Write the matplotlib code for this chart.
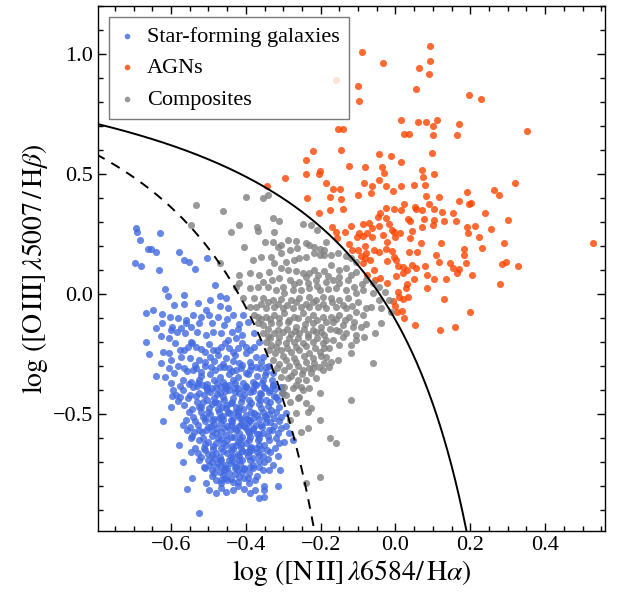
import numpy as np
import matplotlib
matplotlib.use("Agg")
import matplotlib.pyplot as plt

# BPT diagram values: (log NII/Ha, log OIII/Hb)
sf_points = [
    (-0.693, 0.274), (-0.691, 0.260), (-0.629, 0.253), (-0.684, 0.225), (-0.662, 0.186), (-0.653, 0.188),
    (-0.640, 0.177), (-0.695, 0.131), (-0.679, 0.118), (-0.631, 0.100), (-0.579, 0.177), (-0.566, 0.142),
    (-0.552, 0.135), (-0.537, 0.103), (-0.503, 0.149), (-0.483, 0.038), (-0.616, 0.021), (-0.609, -0.009),
    (-0.564, -0.004), (-0.566, -0.041), (-0.528, -0.039), (-0.668, -0.080), (-0.647, -0.066), (-0.624, -0.083),
    (-0.602, -0.094), (-0.593, -0.046), (-0.582, -0.101), (-0.540, -0.087), (-0.506, -0.066), (-0.497, -0.025),
    (-0.470, -0.007), (-0.454, -0.018), (-0.448, -0.059), (-0.470, -0.052), (-0.435, -0.087), (-0.408, -0.087),
    (-0.419, -0.125), (-0.436, -0.157), (-0.457, -0.129), (-0.475, -0.094), (-0.499, -0.087), (-0.524, -0.122),
    (-0.546, -0.136), (-0.559, -0.122), (-0.573, -0.143), (-0.597, -0.136), (-0.625, -0.119), (-0.627, -0.177),
    (-0.606, -0.184), (-0.584, -0.157), (-0.562, -0.164), (-0.546, -0.198), (-0.530, -0.157), (-0.506, -0.171),
    (-0.488, -0.157), (-0.466, -0.164), (-0.448, -0.191), (-0.426, -0.184), (-0.410, -0.171), (-0.399, -0.219),
    (-0.379, -0.164), (-0.668, -0.198), (-0.622, -0.240), (-0.604, -0.247), (-0.577, -0.233), (-0.555, -0.219),
    (-0.533, -0.219), (-0.510, -0.240), (-0.488, -0.233), (-0.466, -0.219), (-0.444, -0.226), (-0.421, -0.226),
    (-0.399, -0.247), (-0.377, -0.219), (-0.372, -0.261), (-0.626, -0.286), (-0.599, -0.275), (-0.573, -0.261),
    (-0.550, -0.268), (-0.524, -0.275), (-0.497, -0.261), (-0.475, -0.254), (-0.452, -0.268), (-0.430, -0.254),
    (-0.417, -0.289), (-0.390, -0.282), (-0.354, -0.261), (-0.345, -0.303), (-0.617, -0.344), (-0.591, -0.330),
    (-0.564, -0.309), (-0.542, -0.316), (-0.519, -0.323), (-0.493, -0.303), (-0.470, -0.303), (-0.444, -0.309),
    (-0.426, -0.316), (-0.399, -0.330), (-0.372, -0.303), (-0.350, -0.337), (-0.328, -0.330), (-0.595, -0.400),
    (-0.568, -0.358), (-0.546, -0.365), (-0.524, -0.358), (-0.506, -0.386), (-0.484, -0.358), (-0.461, -0.365),
    (-0.435, -0.358), (-0.408, -0.372), (-0.381, -0.365), (-0.354, -0.358), (-0.328, -0.379), (-0.577, -0.428),
    (-0.550, -0.421), (-0.524, -0.414), (-0.497, -0.407), (-0.470, -0.414), (-0.444, -0.400), (-0.417, -0.414),
    (-0.390, -0.407), (-0.363, -0.414), (-0.337, -0.407), (-0.319, -0.428),
    (-0.596, -0.427), (-0.587, -0.420), (-0.569, -0.400), (-0.564, -0.462), (-0.551, -0.490), (-0.569, -0.546),
    (-0.547, -0.601), (-0.538, -0.573), (-0.578, -0.629), (-0.547, -0.657), (-0.569, -0.698), (-0.511, -0.722),
    (-0.544, -0.765), (-0.558, -0.812), (-0.507, -0.789), (-0.498, -0.816), (-0.466, -0.809), (-0.453, -0.826),
    (-0.435, -0.782), (-0.404, -0.814), (-0.391, -0.786), (-0.375, -0.775), (-0.351, -0.800), (-0.351, -0.816),
    (-0.352, -0.844), (-0.364, -0.851), (-0.315, -0.802), (-0.337, -0.733), (-0.308, -0.733), (-0.315, -0.675),
    (-0.322, -0.643), (-0.311, -0.622), (-0.297, -0.615), (-0.284, -0.580), (-0.273, -0.608), (-0.524, -0.914),
    (-0.417, -0.761), (-0.449, -0.775), (-0.404, -0.768), (-0.382, -0.712), (-0.364, -0.722), (-0.351, -0.698),
    (-0.328, -0.712), (-0.484, -0.747), (-0.462, -0.754), (-0.444, -0.747), (-0.422, -0.733), (-0.404, -0.726),
    (-0.391, -0.747), (-0.498, -0.712), (-0.524, -0.691), (-0.502, -0.691), (-0.475, -0.705), (-0.455, -0.712),
    (-0.431, -0.698), (-0.364, -0.671), (-0.342, -0.650), (-0.373, -0.643), (-0.391, -0.657), (-0.529, -0.664),
    (-0.511, -0.643), (-0.480, -0.664), (-0.449, -0.664), (-0.417, -0.677), (-0.400, -0.657), (-0.293, -0.552),
    (-0.306, -0.511), (-0.293, -0.497), (-0.324, -0.552), (-0.315, -0.580), (-0.337, -0.608), (-0.351, -0.629),
    (-0.368, -0.608), (-0.382, -0.566), (-0.400, -0.622), (-0.426, -0.629), (-0.453, -0.629), (-0.480, -0.622),
    (-0.502, -0.615), (-0.524, -0.608), (-0.556, -0.566), (-0.529, -0.546), (-0.507, -0.566), (-0.480, -0.580),
    (-0.453, -0.587), (-0.431, -0.594), (-0.409, -0.594), (-0.391, -0.580), (-0.355, -0.580), (-0.337, -0.566),
    (-0.542, -0.511), (-0.515, -0.511), (-0.489, -0.525), (-0.466, -0.539), (-0.440, -0.546), (-0.417, -0.552),
    (-0.395, -0.539), (-0.373, -0.546), (-0.346, -0.532), (-0.324, -0.518), (-0.524, -0.469), (-0.498, -0.476),
    (-0.471, -0.490), (-0.444, -0.497), (-0.422, -0.490), (-0.400, -0.504), (-0.377, -0.497), (-0.355, -0.490),
    (-0.333, -0.483), (-0.311, -0.469), (-0.533, -0.427), (-0.511, -0.420), (-0.484, -0.434), (-0.458, -0.441),
    (-0.435, -0.434), (-0.413, -0.448), (-0.391, -0.441), (-0.368, -0.434), (-0.346, -0.441), (-0.324, -0.427),
    (-0.302, -0.414), (-0.542, -0.386), (-0.515, -0.379), (-0.489, -0.393), (-0.466, -0.386), (-0.444, -0.379),
    (-0.422, -0.393), (-0.400, -0.386), (-0.373, -0.379), (-0.351, -0.386), (-0.328, -0.379), (-0.306, -0.386),
    (-0.475, -0.455), (-0.449, -0.462), (-0.426, -0.469), (-0.466, -0.511), (-0.435, -0.518), (-0.409, -0.525),
    (-0.382, -0.518), (-0.493, -0.552), (-0.458, -0.559), (-0.426, -0.566), (-0.400, -0.559), (-0.475, -0.601),
    (-0.449, -0.608), (-0.422, -0.615), (-0.391, -0.608), (-0.364, -0.601), (-0.466, -0.643), (-0.440, -0.650),
    (-0.413, -0.643), (-0.386, -0.636), (-0.484, -0.684), (-0.466, -0.691), (-0.435, -0.677), (-0.409, -0.691),
    (-0.382, -0.684), (-0.355, -0.677), (-0.449, -0.726), (-0.426, -0.719), (-0.480, -0.775), (-0.435, -0.816),
    (-0.466, -0.789), (-0.489, -0.733), (-0.458, -0.733),
    (-0.505, -0.400), (-0.478, -0.415), (-0.455, -0.405), (-0.430, -0.410), (-0.405, -0.420), (-0.382, -0.405),
    (-0.360, -0.415), (-0.335, -0.400), (-0.515, -0.450), (-0.490, -0.458), (-0.463, -0.470), (-0.440, -0.455),
    (-0.417, -0.475), (-0.392, -0.465), (-0.366, -0.460), (-0.340, -0.465), (-0.520, -0.490), (-0.496, -0.500),
    (-0.472, -0.515), (-0.448, -0.490), (-0.420, -0.505), (-0.398, -0.520), (-0.370, -0.505), (-0.350, -0.510),
    (-0.510, -0.530), (-0.484, -0.540), (-0.460, -0.525), (-0.438, -0.535), (-0.412, -0.540), (-0.388, -0.530),
    (-0.360, -0.545), (-0.335, -0.535), (-0.518, -0.575), (-0.490, -0.570), (-0.465, -0.575), (-0.442, -0.565),
    (-0.418, -0.580), (-0.395, -0.570), (-0.370, -0.585), (-0.508, -0.625), (-0.488, -0.635), (-0.462, -0.620),
    (-0.437, -0.632), (-0.412, -0.625), (-0.390, -0.640), (-0.365, -0.628), (-0.500, -0.665), (-0.470, -0.680),
    (-0.445, -0.690), (-0.420, -0.665), (-0.395, -0.675), (-0.370, -0.660), (-0.490, -0.700), (-0.465, -0.715),
    (-0.440, -0.705), (-0.415, -0.710), (-0.390, -0.720), (-0.470, -0.740), (-0.430, -0.750), (-0.455, -0.765),
    (-0.410, -0.740), (-0.535, -0.295), (-0.510, -0.285), (-0.485, -0.280), (-0.460, -0.290), (-0.435, -0.280),
    (-0.410, -0.295), (-0.385, -0.300), (-0.360, -0.285), (-0.520, -0.340), (-0.495, -0.335), (-0.470, -0.345),
    (-0.445, -0.335), (-0.420, -0.345), (-0.395, -0.335), (-0.370, -0.340), (-0.345, -0.325), (-0.530, -0.385),
    (-0.505, -0.375), (-0.480, -0.390), (-0.455, -0.380), (-0.430, -0.390), (-0.400, -0.385), (-0.375, -0.375),
    (-0.350, -0.390), (-0.330, -0.360),
    (-0.590, -0.205), (-0.565, -0.232), (-0.543, -0.205), (-0.520, -0.228), (-0.498, -0.210), (-0.476, -0.235),
    (-0.455, -0.205), (-0.433, -0.240), (-0.410, -0.205), (-0.388, -0.232), (-0.365, -0.200), (-0.605, -0.310),
    (-0.580, -0.298), (-0.556, -0.320), (-0.532, -0.310), (-0.508, -0.300), (-0.482, -0.318), (-0.458, -0.305),
    (-0.437, -0.322), (-0.412, -0.310), (-0.388, -0.318), (-0.362, -0.310), (-0.338, -0.300), (-0.600, -0.370),
    (-0.575, -0.385), (-0.552, -0.375), (-0.528, -0.370), (-0.503, -0.390), (-0.478, -0.370), (-0.452, -0.390),
    (-0.428, -0.370), (-0.405, -0.395), (-0.380, -0.390), (-0.356, -0.372), (-0.322, -0.395), (-0.580, -0.445),
    (-0.555, -0.435), (-0.530, -0.450), (-0.505, -0.440), (-0.482, -0.450), (-0.460, -0.430), (-0.436, -0.448),
    (-0.410, -0.432), (-0.386, -0.455), (-0.362, -0.440), (-0.336, -0.450), (-0.315, -0.440), (-0.545, -0.480),
    (-0.520, -0.470), (-0.500, -0.490), (-0.475, -0.480), (-0.452, -0.475), (-0.430, -0.490), (-0.408, -0.480),
    (-0.385, -0.490), (-0.360, -0.475), (-0.338, -0.500), (-0.318, -0.490), (-0.560, -0.525), (-0.535, -0.530),
    (-0.510, -0.515), (-0.486, -0.520), (-0.460, -0.510), (-0.440, -0.525), (-0.415, -0.515), (-0.392, -0.525),
    (-0.366, -0.520), (-0.345, -0.515), (-0.310, -0.530), (-0.550, -0.555), (-0.525, -0.565), (-0.500, -0.555),
    (-0.476, -0.560), (-0.450, -0.550), (-0.428, -0.560), (-0.405, -0.548), (-0.380, -0.560), (-0.358, -0.555),
    (-0.330, -0.565), (-0.305, -0.560), (-0.545, -0.590), (-0.515, -0.600), (-0.490, -0.592), (-0.465, -0.605),
    (-0.440, -0.595), (-0.415, -0.605), (-0.390, -0.595), (-0.365, -0.585), (-0.340, -0.590), (-0.318, -0.600),
    (-0.535, -0.640), (-0.510, -0.650), (-0.487, -0.645), (-0.460, -0.655), (-0.435, -0.645), (-0.410, -0.655),
    (-0.385, -0.650), (-0.360, -0.645), (-0.335, -0.660), (-0.520, -0.680), (-0.490, -0.672), (-0.468, -0.690),
    (-0.440, -0.680), (-0.418, -0.690), (-0.390, -0.690), (-0.365, -0.695), (-0.340, -0.688), (-0.510, -0.725),
    (-0.480, -0.720), (-0.455, -0.730), (-0.430, -0.725), (-0.405, -0.730), (-0.380, -0.725), (-0.355, -0.735),
    (-0.490, -0.760), (-0.465, -0.775), (-0.440, -0.770), (-0.420, -0.785), (-0.395, -0.765), (-0.370, -0.760),
    (-0.480, -0.830), (-0.420, -0.800), (-0.390, -0.830), (-0.375, -0.815), (-0.600, -0.150), (-0.560, -0.110),
    (-0.520, -0.095), (-0.490, -0.120), (-0.450, -0.105), (-0.420, -0.145), (-0.395, -0.115), (-0.640, -0.140),
    (-0.660, -0.250), (-0.640, -0.340), (-0.600, -0.470), (-0.620, -0.530),
]

agn_points = [
    (-0.090, 1.007), (0.092, 1.035), (-0.032, 0.961), (0.092, 0.971), (0.064, 0.942), (0.090, 0.918),
    (-0.099, 0.868), (0.055, 0.854), (-0.098, 0.804), (0.197, 0.829), (0.229, 0.813), (0.014, 0.725),
    (0.061, 0.716), (0.082, 0.718), (0.111, 0.725), (0.169, 0.709), (0.101, 0.702), (-0.153, 0.688),
    (-0.139, 0.689), (0.023, 0.667), (0.037, 0.668), (0.100, 0.663), (0.164, 0.664), (0.351, 0.679),
    (-0.146, 0.598), (-0.220, 0.596), (-0.044, 0.584), (-0.011, 0.575), (0.098, 0.588), (-0.239, 0.559),
    (0.016, 0.548), (-0.123, 0.535), (-0.082, 0.529), (-0.036, 0.531), (0.072, 0.518), (-0.201, 0.513),
    (-0.204, 0.499), (-0.031, 0.503), (0.103, 0.500), (-0.239, 0.500), (0.074, 0.486), (-0.296, 0.482),
    (-0.084, 0.463), (-0.186, 0.464), (-0.045, 0.473), (-0.062, 0.448), (-0.025, 0.452), (0.016, 0.452),
    (0.049, 0.453), (0.079, 0.453), (0.320, 0.463), (-0.168, 0.436), (-0.149, 0.436), (-0.100, 0.414),
    (-0.066, 0.421), (-0.007, 0.431), (0.263, 0.434), (0.276, 0.413), (0.191, 0.427), (-0.237, 0.402),
    (-0.176, 0.404), (-0.146, 0.395), (0.024, 0.374), (0.051, 0.364), (0.089, 0.374), (0.117, 0.406),
    (0.082, 0.410), (0.170, 0.388), (0.203, 0.380), (0.196, 0.374), (-0.141, 0.356), (-0.174, 0.350),
    (-0.204, 0.339), (-0.025, 0.360), (-0.004, 0.356), (0.015, 0.350), (0.055, 0.353), (0.070, 0.348),
    (0.102, 0.356), (0.124, 0.343), (0.155, 0.336), (0.239, 0.339), (0.300, 0.309), (0.162, 0.306),
    (-0.041, 0.336), (-0.048, 0.320), (-0.025, 0.318), (0.034, 0.314), (0.039, 0.306), (0.076, 0.311),
    (0.103, 0.309), (0.100, 0.288), (0.131, 0.306), (-0.170, 0.278), (-0.160, 0.259), (-0.118, 0.284),
    (-0.086, 0.292), (-0.070, 0.295), (-0.063, 0.274), (-0.043, 0.284), (-0.017, 0.292), (-0.008, 0.267),
    (0.011, 0.253), (0.045, 0.261), (0.072, 0.278), (0.190, 0.278), (0.213, 0.284), (0.194, 0.253),
    (0.254, 0.270), (-0.134, 0.259), (-0.104, 0.236), (-0.088, 0.242), (-0.076, 0.256), (-0.097, 0.253),
    (-0.063, 0.236), (-0.033, 0.246), (-0.022, 0.218), (-0.005, 0.257), (0.000, 0.239), (0.040, 0.232),
    (0.069, 0.211), (0.123, 0.214), (0.222, 0.236), (-0.156, 0.232), (-0.125, 0.209), (-0.100, 0.184),
    (-0.082, 0.198), (-0.080, 0.170), (-0.057, 0.184), (-0.045, 0.177), (-0.025, 0.186), (-0.010, 0.181),
    (-0.005, 0.156), (0.035, 0.177), (0.057, 0.177), (0.107, 0.161), (0.184, 0.189), (0.232, 0.192),
    (0.291, 0.211), (-0.115, 0.184), (-0.093, 0.159), (-0.082, 0.148), (-0.067, 0.142), (-0.088, 0.128),
    (-0.023, 0.139), (0.001, 0.142), (0.019, 0.114), (0.044, 0.121), (0.054, 0.107), (0.079, 0.117),
    (0.117, 0.134), (0.146, 0.128), (0.184, 0.163), (0.188, 0.128), (0.284, 0.124), (0.295, 0.135),
    (0.328, 0.117), (-0.077, 0.080), (-0.057, 0.098), (-0.054, 0.059), (-0.041, 0.066), (-0.023, 0.045),
    (0.008, 0.117), (0.021, 0.086), (0.032, 0.100), (0.032, 0.041), (0.049, 0.063), (0.085, 0.080),
    (0.102, 0.063), (0.135, 0.064), (0.153, 0.109), (0.164, 0.089), (0.171, 0.103), (0.204, 0.081),
    (0.279, 0.041), (0.007, 0.010), (0.010, -0.011), (0.084, 0.027), (0.021, -0.022), (0.034, -0.011),
    (0.131, -0.022), (-0.006, -0.029), (0.000, -0.052), (0.017, -0.072), (0.003, -0.073), (0.028, 0.027),
    (0.001, 0.073), (-0.344, 0.448), (0.527, 0.213), (-0.158, 0.890), (0.024, -0.100), (0.051, -0.129),
    (0.118, -0.150), (0.158, -0.138), (0.198, -0.075),
]

comp_points = [
    (-0.462, 0.347), (-0.399, 0.406), (-0.355, 0.399), (-0.341, 0.413), (-0.439, 0.260), (-0.417, 0.287),
    (-0.371, 0.281), (-0.368, 0.264), (-0.326, 0.315), (-0.310, 0.306), (-0.324, 0.260), (-0.288, 0.225),
    (-0.266, 0.221), (-0.328, 0.218), (-0.350, 0.218), (-0.315, 0.197), (-0.306, 0.204), (-0.248, 0.290),
    (-0.226, 0.287), (-0.210, 0.267), (-0.239, 0.211), (-0.230, 0.204), (-0.217, 0.197), (-0.203, 0.186),
    (-0.185, 0.218), (-0.190, 0.183), (-0.264, 0.190), (-0.283, 0.183), (-0.306, 0.169), (-0.332, 0.156),
    (-0.359, 0.156), (-0.381, 0.142), (-0.404, 0.197), (-0.469, 0.131), (-0.324, 0.128), (-0.292, 0.135),
    (-0.270, 0.142), (-0.257, 0.149), (-0.239, 0.153), (-0.217, 0.172), (-0.203, 0.162), (-0.190, 0.162),
    (-0.172, 0.162), (-0.154, 0.169), (-0.132, 0.158), (-0.119, 0.149), (-0.105, 0.135), (-0.172, 0.121),
    (-0.217, 0.100), (-0.190, 0.097), (-0.208, 0.079), (-0.230, 0.086), (-0.248, 0.086), (-0.266, 0.097),
    (-0.288, 0.100), (-0.306, 0.107), (-0.337, 0.093), (-0.417, 0.079), (-0.390, 0.086), (-0.364, 0.079),
    (-0.310, 0.065), (-0.283, 0.058), (-0.257, 0.051), (-0.234, 0.044), (-0.212, 0.058), (-0.185, 0.051),
    (-0.168, 0.058), (-0.150, 0.044), (-0.128, 0.058), (-0.110, 0.031), (-0.087, 0.017), (-0.079, 0.058),
    (-0.061, 0.044), (-0.043, 0.031), (-0.029, 0.010), (-0.132, 0.107), (-0.150, 0.100), (-0.105, 0.093),
    (-0.390, 0.024), (-0.368, 0.031), (-0.341, 0.028), (-0.319, 0.017), (-0.297, 0.003), (-0.275, 0.017),
    (-0.252, 0.017), (-0.230, 0.024), (-0.203, 0.017), (-0.181, 0.019), (-0.159, 0.024), (-0.132, 0.017),
    (-0.105, 0.003), (-0.043, -0.025), (-0.016, -0.025), (-0.061, 0.003), (-0.426, 0.031), (-0.417, 0.044),
    (-0.408, -0.018), (-0.377, -0.018), (-0.355, -0.018), (-0.328, -0.025), (-0.306, -0.022), (-0.279, -0.025),
    (-0.257, -0.018), (-0.230, -0.011), (-0.212, -0.025), (-0.194, -0.011), (-0.172, -0.018), (-0.150, -0.025),
    (-0.128, -0.018), (-0.101, -0.032), (-0.065, -0.053), (-0.390, -0.053), (-0.373, -0.053), (-0.346, -0.060),
    (-0.324, -0.053), (-0.301, -0.060), (-0.275, -0.060), (-0.252, -0.053), (-0.230, -0.053), (-0.208, -0.053),
    (-0.185, -0.060), (-0.159, -0.053), (-0.132, -0.060), (-0.105, -0.074), (-0.012, -0.074), (-0.038, -0.060),
    (-0.377, -0.088), (-0.368, -0.094), (-0.346, -0.094), (-0.324, -0.088), (-0.297, -0.081), (-0.270, -0.094),
    (-0.248, -0.081), (-0.221, -0.088), (-0.194, -0.094), (-0.172, -0.094), (-0.150, -0.088), (-0.123, -0.094),
    (-0.087, -0.088), (-0.368, -0.122), (-0.355, -0.129), (-0.332, -0.122), (-0.310, -0.122), (-0.288, -0.115),
    (-0.266, -0.136), (-0.243, -0.125), (-0.221, -0.122), (-0.199, -0.136), (-0.168, -0.115), (-0.141, -0.129),
    (-0.114, -0.136), (-0.079, -0.125), (-0.038, -0.122), (-0.355, -0.164), (-0.341, -0.175), (-0.324, -0.164),
    (-0.301, -0.157), (-0.279, -0.167), (-0.257, -0.161), (-0.234, -0.167), (-0.212, -0.157), (-0.190, -0.171),
    (-0.159, -0.150), (-0.132, -0.164), (-0.105, -0.171), (-0.056, -0.164), (-0.346, -0.199), (-0.332, -0.213),
    (-0.315, -0.199), (-0.292, -0.206), (-0.270, -0.199), (-0.248, -0.206), (-0.221, -0.199), (-0.194, -0.206),
    (-0.168, -0.192), (-0.150, -0.213), (-0.119, -0.213), (-0.337, -0.233), (-0.321, -0.247), (-0.306, -0.233),
    (-0.279, -0.240), (-0.257, -0.233), (-0.230, -0.247), (-0.203, -0.240), (-0.177, -0.226), (-0.185, -0.261),
    (-0.326, -0.275), (-0.310, -0.292), (-0.292, -0.275), (-0.266, -0.282), (-0.239, -0.282), (-0.217, -0.289),
    (-0.190, -0.286), (-0.172, -0.282), (-0.154, -0.275), (-0.119, -0.247), (-0.317, -0.310), (-0.297, -0.317),
    (-0.270, -0.324), (-0.248, -0.317), (-0.221, -0.310), (-0.194, -0.317), (-0.177, -0.303), (-0.061, -0.289),
    (-0.306, -0.345), (-0.288, -0.351), (-0.261, -0.358), (-0.239, -0.358), (-0.212, -0.351), (-0.297, -0.386),
    (-0.275, -0.393), (-0.252, -0.386), (-0.230, -0.393), (-0.292, -0.421), (-0.257, -0.428), (-0.105, -0.192),
    (-0.083, -0.178), (-0.141, -0.178), (-0.092, -0.136), (-0.533, 0.371), (-0.546, 0.288),
    (-0.301, -0.414), (-0.266, -0.379), (-0.248, -0.400), (-0.203, -0.414), (-0.283, -0.449), (-0.261, -0.435),
    (-0.239, -0.456), (-0.225, -0.476), (-0.266, -0.497), (-0.234, -0.490), (-0.283, -0.525), (-0.252, -0.574),
    (-0.234, -0.560), (-0.203, -0.525), (-0.176, -0.601), (-0.203, -0.761), (-0.239, -0.789), (-0.120, -0.440),
    (-0.160, -0.620),
    (-0.355, 0.050), (-0.330, 0.060), (-0.300, 0.030), (-0.270, 0.040), (-0.240, 0.070), (-0.210, 0.035),
    (-0.180, 0.075), (-0.150, 0.070), (-0.120, 0.080), (-0.090, 0.040), (-0.360, -0.040), (-0.340, -0.035),
    (-0.315, -0.040), (-0.290, -0.045), (-0.265, -0.035), (-0.240, -0.040), (-0.220, -0.035), (-0.195, -0.040),
    (-0.170, -0.035), (-0.140, -0.045), (-0.115, -0.050), (-0.080, -0.060), (-0.360, -0.105), (-0.335, -0.105),
    (-0.310, -0.100), (-0.285, -0.110), (-0.260, -0.100), (-0.235, -0.105), (-0.210, -0.110), (-0.185, -0.115),
    (-0.160, -0.105), (-0.135, -0.110), (-0.110, -0.115), (-0.340, -0.145), (-0.315, -0.150), (-0.290, -0.145),
    (-0.268, -0.155), (-0.245, -0.145), (-0.220, -0.150), (-0.200, -0.160), (-0.175, -0.145), (-0.150, -0.155),
    (-0.335, -0.185), (-0.310, -0.180), (-0.285, -0.185), (-0.260, -0.185), (-0.235, -0.180), (-0.210, -0.185),
    (-0.185, -0.190), (-0.320, -0.220), (-0.290, -0.225), (-0.265, -0.220), (-0.240, -0.215), (-0.215, -0.225),
    (-0.190, -0.225), (-0.300, -0.260), (-0.270, -0.265), (-0.245, -0.260), (-0.220, -0.265), (-0.200, -0.260),
    (-0.285, -0.300), (-0.260, -0.300), (-0.230, -0.310), (-0.205, -0.305), (-0.280, -0.340), (-0.250, -0.335),
    (-0.225, -0.330),
]

sf = np.array(sf_points)
agn = np.array(agn_points)
comp = np.array(comp_points)

plt.rcParams["font.family"] = ["Liberation Serif", "DejaVu Serif"]
plt.rcParams["mathtext.fontset"] = "stix"
plt.rcParams["xtick.direction"] = "in"
plt.rcParams["ytick.direction"] = "in"

fig = plt.figure(figsize=(6.23, 5.93), dpi=100)
ax = fig.add_axes([98 / 623, 1 - 531 / 593, 507 / 623, 525 / 593])

ax.scatter(sf[:, 0], sf[:, 1], s=26, color="royalblue", alpha=0.8, lw=0, label="Star-forming galaxies")
ax.scatter(agn[:, 0], agn[:, 1], s=26, color="orangered", alpha=0.8, lw=0, label="AGNs")
ax.scatter(comp[:, 0], comp[:, 1], s=26, color="gray", alpha=0.8, lw=0, label="Composites")

# Kewley et al. 2001 (solid) and Kauffmann et al. 2003 (dashed) demarcations
xk = np.linspace(-0.8, 0.2, 400)
ax.plot(xk, 0.61 / (xk - 0.47) + 1.19, color="black", lw=1.4, zorder=5)
xf = np.linspace(-0.8, -0.21, 400)
ax.plot(xf, 0.61 / (xf - 0.05) + 1.3, color="black", lw=1.4, ls=(0, (5, 4)), zorder=5)

ax.set_xlim(-0.795, 0.56)
ax.set_ylim(-0.9875, 1.2)
ax.set_xticks([-0.6, -0.4, -0.2, 0.0, 0.2, 0.4])
ax.set_yticks([-0.5, 0.0, 0.5, 1.0])
ax.minorticks_on()
ax.tick_params(which="both", top=True, right=True, width=1.0, labelsize=16)
ax.tick_params(which="major", length=6)
ax.tick_params(which="minor", length=3.5)
for sp in ax.spines.values():
    sp.set_linewidth(1.0)

ax.set_xlabel(r"$\log\,([\mathrm{N\,II}]\,\lambda6584/\,\mathrm{H}\alpha)$", fontsize=20, labelpad=2)
ax.set_ylabel(r"$\log\,([\mathrm{O\,III}]\,\lambda5007\,/\,\mathrm{H}\beta)$", fontsize=20, labelpad=2)

leg = ax.legend(loc="upper left", fontsize=16, handlelength=0.8, handletextpad=0.5,
                fancybox=False, edgecolor="0.35", scatterpoints=1, markerscale=0.8)
leg.get_frame().set_linewidth(1.0)

fig.savefig("out.png", dpi=100)
